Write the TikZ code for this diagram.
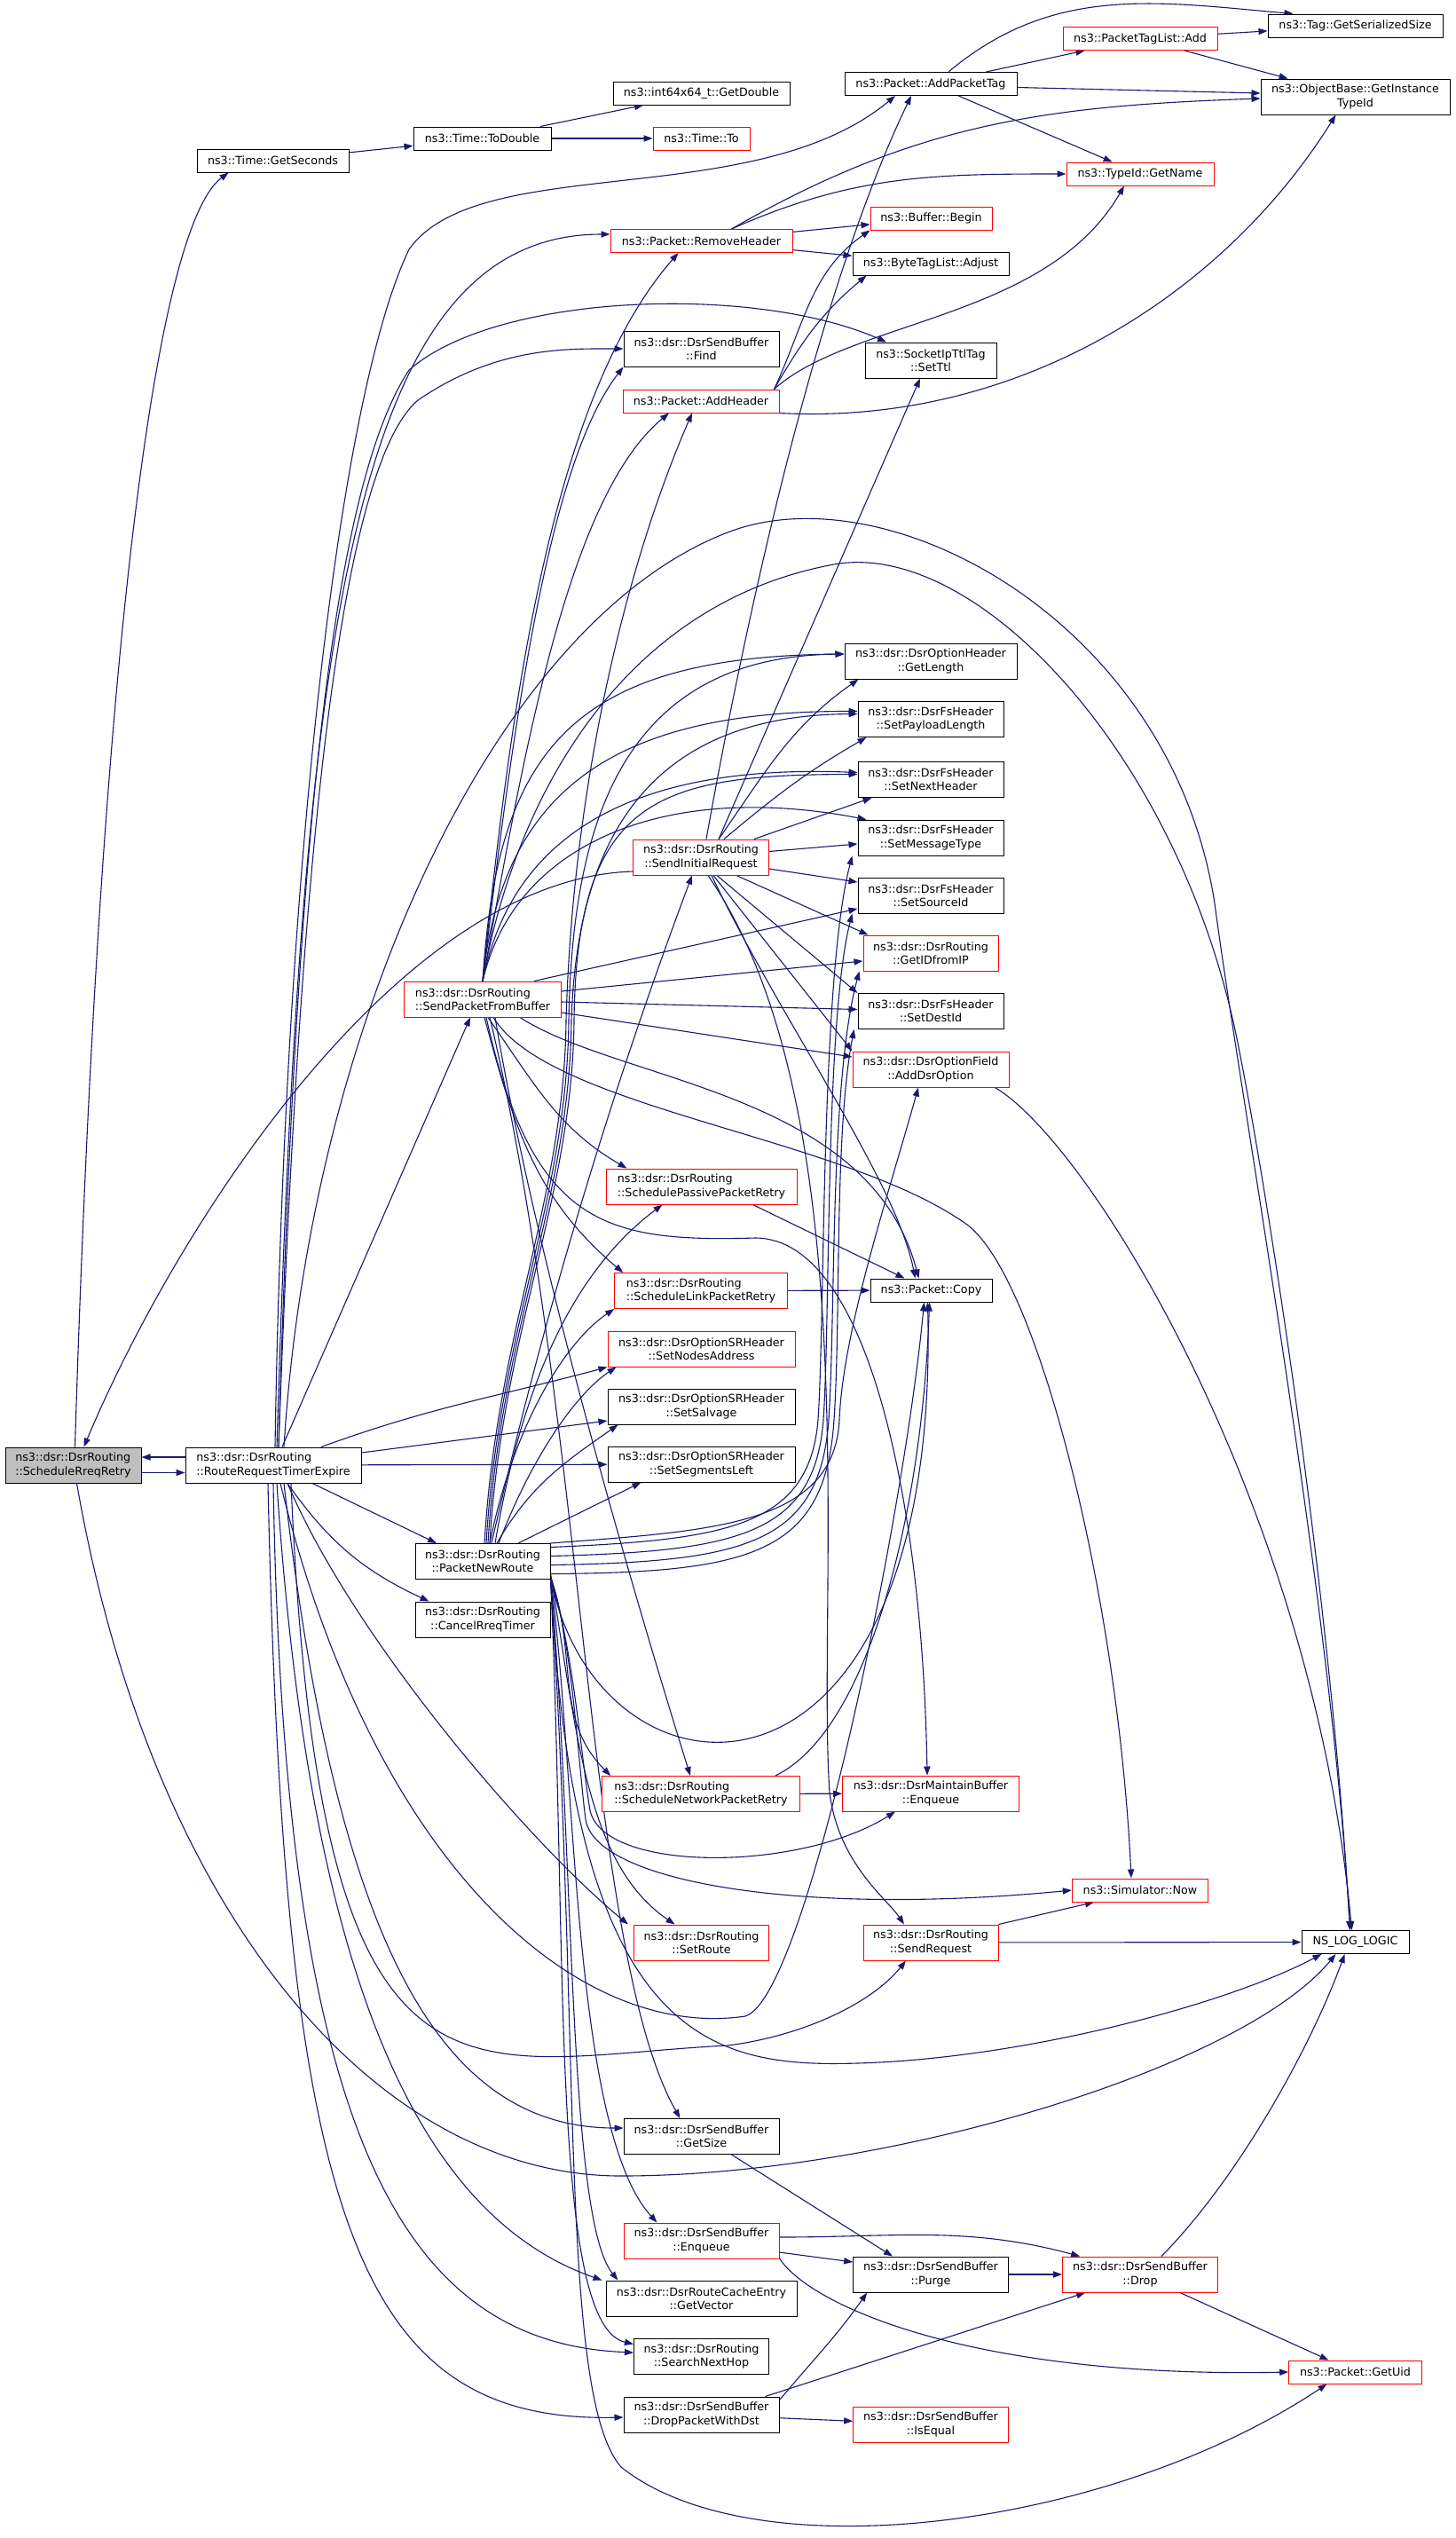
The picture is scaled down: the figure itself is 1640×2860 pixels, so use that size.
\documentclass[tikz,border=0pt]{standalone}
\usepackage{fontspec}
\setmainfont{DejaVu Sans}
\usepackage{tikz}
\usetikzlibrary{arrows.meta,positioning}
\usepackage{xcolor}
\definecolor{callblue}{RGB}{25,25,112}
\definecolor{focusgray}{RGB}{191,191,191}
\pgfdeclarelayer{back}
\pgfdeclarelayer{links}
\pgfsetlayers{back,links,main}

\begin{document}
\begin{tikzpicture} [
    x = 0.5pt, y = 0.5pt,
    fn/.style = { draw = black, line width = 0.5pt, fill = white, inner xsep = 1pt, inner ysep = 0pt,
        font = \fontsize{6.35}{7.7}\selectfont, align = center, minimum width = #1, minimum height = 20pt },
    oneline/.style = { minimum height = 13pt },
    hot/.style = { draw = red },
    lft/.style = { align = left },
    focus/.style = { fill = focusgray },
    call/.style = { draw = callblue, line width = 0.55pt, -{Triangle[length = 5pt, width = 3.6pt]} }
    ]

    \useasboundingbox (0,0) rectangle (1640,-2860);
    \begin{pgfonlayer}{back}
    \fill[white] (0,0) rectangle (1640,-2860);
    \end{pgfonlayer}

    \node [fn=76.5pt, focus, lft] (srr) at (82.5,-1651) {ns3::dsr::DsrRouting\\::ScheduleRreqRetry};
    \node [fn=99pt, lft] (rrte) at (308,-1651) {ns3::dsr::DsrRouting\\::RouteRequestTimerExpire};
    \node [fn=85.5pt, oneline] (getsec) at (307.5,-181) {ns3::Time::GetSeconds};
    \node [fn=77.5pt, oneline] (todouble) at (543.5,-156) {ns3::Time::ToDouble};
    \node [fn=99.5pt, oneline] (getdouble) at (790.5,-105) {ns3::int64x64\_t::GetDouble};
    \node [fn=54.5pt, oneline, hot] (timeto) at (790.5,-156) {ns3::Time::To};
    \node [fn=97pt, oneline] (addtag) at (1049,-94.5) {ns3::Packet::AddPacketTag};
    \node [fn=87pt, oneline, hot] (taglistadd) at (1285,-43.5) {ns3::PacketTagList::Add};
    \node [fn=98.5pt, oneline] (sersize) at (1527.5,-29) {ns3::Tag::GetSerializedSize};
    \node [fn=106.5pt] (instid) at (1527.5,-109) {ns3::ObjectBase::GetInstance\\TypeId};
    \node [fn=83pt, oneline, hot] (getname) at (1285,-196) {ns3::TypeId::GetName};
    \node [fn=102.5pt, oneline, hot] (remhdr) at (790.5,-271.5) {ns3::Packet::RemoveHeader};
    \node [fn=68.5pt, oneline, hot] (bufbegin) at (1049.5,-246) {ns3::Buffer::Begin};
    \node [fn=88pt, oneline] (adjust) at (1049,-297) {ns3::ByteTagList::Adjust};
    \node [fn=87.5pt] (find) at (790.5,-393) {ns3::dsr::DsrSendBuffer\\::Find};
    \node [fn=74pt] (setttl) at (1049,-406) {ns3::SocketIpTtlTag\\::SetTtl};
    \node [fn=88pt, oneline, hot] (addhdr) at (790,-452) {ns3::Packet::AddHeader};
    \node [fn=97pt] (getlength) at (1049,-745) {ns3::dsr::DsrOptionHeader\\::GetLength};
    \node [fn=82pt] (setpayload) at (1049,-810.5) {ns3::dsr::DsrFsHeader\\::SetPayloadLength};
    \node [fn=82pt] (setnext) at (1049,-878.5) {ns3::dsr::DsrFsHeader\\::SetNextHeader};
    \node [fn=82pt] (setmsg) at (1049,-944) {ns3::dsr::DsrFsHeader\\::SetMessageType};
    \node [fn=76.25pt, hot] (initreq) at (790,-966) {ns3::dsr::DsrRouting\\::SendInitialRequest};
    \node [fn=82pt] (setsrc) at (1049,-1009) {ns3::dsr::DsrFsHeader\\::SetSourceId};
    \node [fn=76pt, hot] (getid) at (1049,-1074) {ns3::dsr::DsrRouting\\::GetIDfromIP};
    \node [fn=88.25pt, hot, lft] (sendbuf) at (544,-1126) {ns3::dsr::DsrRouting\\::SendPacketFromBuffer};
    \node [fn=82pt] (setdest) at (1049,-1139.5) {ns3::dsr::DsrFsHeader\\::SetDestId};
    \node [fn=88pt, hot] (addopt) at (1049,-1205) {ns3::dsr::DsrOptionField\\::AddDsrOption};
    \node [fn=107.5pt, hot, lft] (passive) at (790.5,-1337) {ns3::dsr::DsrRouting\\::SchedulePassivePacketRetry};
    \node [fn=68.5pt, oneline] (copy) at (1049.5,-1454) {ns3::Packet::Copy};
    \node [fn=97.25pt, hot, lft] (linkretry) at (790,-1454.5) {ns3::dsr::DsrRouting\\::ScheduleLinkPacketRetry};
    \node [fn=105.5pt, hot] (nodesaddr) at (790.5,-1520) {ns3::dsr::DsrOptionSRHeader\\::SetNodesAddress};
    \node [fn=105.5pt] (salvage) at (790.5,-1585) {ns3::dsr::DsrOptionSRHeader\\::SetSalvage};
    \node [fn=105.5pt] (segleft) at (790.5,-1650) {ns3::dsr::DsrOptionSRHeader\\::SetSegmentsLeft};
    \node [fn=76pt] (newroute) at (544,-1759.5) {ns3::dsr::DsrRouting\\::PacketNewRoute};
    \node [fn=76pt] (cancel) at (544,-1825) {ns3::dsr::DsrRouting\\::CancelRreqTimer};
    \node [fn=111.3pt, hot, lft] (netretry) at (790,-2021.5) {ns3::dsr::DsrRouting\\::ScheduleNetworkPacketRetry};
    \node [fn=99.4pt, hot] (mainenq) at (1049,-2021) {ns3::dsr::DsrMaintainBuffer\\::Enqueue};
    \node [fn=76.7pt, oneline, hot] (now) at (1285,-2130) {ns3::Simulator::Now};
    \node [fn=76pt, hot] (setroute) at (790.5,-2189) {ns3::dsr::DsrRouting\\::SetRoute};
    \node [fn=76pt, hot] (sendreq) at (1049,-2189) {ns3::dsr::DsrRouting\\::SendRequest};
    \node [fn=60.5pt, oneline] (nslog) at (1527.5,-2188.5) {NS\_LOG\_LOGIC};
    \node [fn=87.5pt] (getsize) at (790.5,-2407.5) {ns3::dsr::DsrSendBuffer\\::GetSize};
    \node [fn=87.5pt, hot] (sendenq) at (790.5,-2525) {ns3::dsr::DsrSendBuffer\\::Enqueue};
    \node [fn=87.35pt] (purge) at (1049,-2563) {ns3::dsr::DsrSendBuffer\\::Purge};
    \node [fn=87.35pt, hot] (drop) at (1285,-2563) {ns3::dsr::DsrSendBuffer\\::Drop};
    \node [fn=107.5pt] (getvector) at (790.5,-2590) {ns3::dsr::DsrRouteCacheEntry\\::GetVector};
    \node [fn=76pt] (nexthop) at (790.5,-2655.5) {ns3::dsr::DsrRouting\\::SearchNextHop};
    \node [fn=74.8pt, oneline, hot] (getuid) at (1527.5,-2673) {ns3::Packet::GetUid};
    \node [fn=87.5pt] (dropdst) at (790.5,-2721) {ns3::dsr::DsrSendBuffer\\::DropPacketWithDst};
    \node [fn=87.35pt, hot] (isequal) at (1049,-2732) {ns3::dsr::DsrSendBuffer\\::IsEqual};

    \begin{pgfonlayer}{links}
    \draw[call] ([xshift=1pt]srr.north) .. controls (110,-800) and (170,-260) .. ([xshift=-25pt]getsec.south);
    \draw[call] ([yshift=-4.25pt]srr.east) -- ([yshift=-4.25pt]rrte.west);
    \draw[call] ([xshift=2pt]srr.south) .. controls (170,-2150) and (420,-2452) .. (700,-2452) .. controls (1000,-2452) and (1400,-2330) .. ([xshift=-11pt]nslog.south);

    \draw[call] (getsec) -- (todouble);
    \draw[call] (todouble) -- (getdouble);
    \draw[call] (todouble) -- (timeto);

    \draw[call] (addtag) -- (taglistadd);
    \draw[call] ([xshift=10pt]addtag.north) to[out=40, in=175] ([xshift=-35pt]sersize.north);
    \draw[call] ([yshift=-2pt]addtag.east) -- ([yshift=2pt]instid.west);
    \draw[call] (addtag) -- (getname);
    \draw[call] (taglistadd) -- (sersize);
    \draw[call] (taglistadd) -- (instid);
    \draw[call] (remhdr) -- (bufbegin);
    \draw[call] (remhdr) -- (adjust);
    \draw[call] ([xshift=17pt]remhdr.north) to[out=24, in=180] (getname.west);
    \draw[call] ([xshift=17pt]remhdr.north) to[out=30, in=182] ([yshift=-1pt]instid.west);
    \draw[call] ([xshift=-3pt]addhdr.north east) to[out=65, in=215] (bufbegin.south west);
    \draw[call] ([xshift=-3pt]addhdr.north east) to[out=60, in=220] ([xshift=8pt]adjust.south west);
    \draw[call] ([xshift=-3pt]addhdr.north east) .. controls (960,-360) and (1180,-360) .. ([xshift=-9pt]getname.south);
    \draw[call] (addhdr.south east) .. controls (1150,-480) and (1380,-330) .. ([xshift=-11pt]instid.south);

    \draw[call] ([yshift=4.5pt]rrte.west) -- ([yshift=4.5pt]srr.east);
    \draw[call] ([xshift=1pt]rrte.north) .. controls (320,-1000) and (380,-450) .. (461,-281) .. controls (540,-170) and (850,-240) .. ([xshift=-20pt]addtag.south);
    \draw[call] ([xshift=2pt]rrte.north) .. controls (340,-700) and (400,-264) .. ([yshift=3.75pt]remhdr.west);
    \draw[call] ([xshift=3pt]rrte.north) .. controls (335,-900) and (380,-540) .. (461,-417) .. controls (560,-330) and (850,-320) .. ([xshift=-25pt]setttl.north);
    \draw[call] ([xshift=3pt]rrte.north) .. controls (340,-900) and (390,-520) .. (471,-451) .. controls (560,-390) and (640,-393) .. (find.west);
    \draw[call] ([xshift=5pt]rrte.north) -- ([xshift=-7pt]sendbuf.south);
    \draw[call] ([xshift=6pt]rrte.north) .. controls (350,-1150) and (560,-700) .. (820,-600) .. controls (1000,-530) and (1320,-700) .. (1369,-1018) .. controls (1400,-1250) and (1500,-1800) .. ([xshift=-3pt]nslog.north);
    \draw[call] ([xshift=27pt]rrte.north) to[out=20, in=195] (nodesaddr.south west);
    \draw[call] ([yshift=7pt]rrte.east) -- ([yshift=-8pt]salvage.west);
    \draw[call] (rrte) -- (segleft);
    \draw[call] ([xshift=22pt]rrte.south) -- ([xshift=-26pt]newroute.north);
    \draw[call] ([xshift=8pt]rrte.south) to[out=-55, in=155] ([xshift=8pt]cancel.north west);
    \draw[call] ([xshift=8pt]rrte.south) .. controls (400,-1850) and (600,-2080) .. ([xshift=-3pt]setroute.north west);
    \draw[call] ([xshift=6pt]rrte.south) .. controls (380,-2200) and (500,-2398) .. ([yshift=4.75pt]getsize.west);
    \draw[call] ([xshift=2pt]rrte.south) .. controls (350,-2250) and (480,-2500) .. ([xshift=-2pt]getvector.north west);
    \draw[call] (rrte.south) .. controls (320,-2400) and (450,-2640) .. ([yshift=2.25pt]nexthop.west);
    \draw[call] ([xshift=-3pt]rrte.south) .. controls (320,-2500) and (400,-2730) .. ([yshift=-1.5pt]dropdst.west);
    \draw[call] ([xshift=4pt]rrte.south) .. controls (420,-2100) and (650,-2300) .. (840,-2272) .. controls (910,-2250) and (1020,-1700) .. ([xshift=-4pt]copy.south);
    \draw[call] ([xshift=10pt]rrte.south) .. controls (360,-2420) and (520,-2320) .. (820,-2305) .. controls (900,-2295) and (980,-2260) .. ([xshift=-14pt]sendreq.south);

    \draw[call] (sendbuf.north) .. controls (575,-800) and (620,-450) .. ([xshift=-13pt]remhdr.south);
    \draw[call] (sendbuf.north) .. controls (580,-800) and (620,-520) .. (find.south west);
    \draw[call] (sendbuf.north) .. controls (590,-850) and (640,-560) .. ([xshift=-18pt]addhdr.south);
    \draw[call] (sendbuf.north) .. controls (560,-850) and (640,-740) .. ([yshift=4pt]getlength.west);
    \draw[call] (sendbuf.north) .. controls (565,-900) and (680,-801) .. ([yshift=4.5pt]setpayload.west);
    \draw[call] (sendbuf.north) .. controls (575,-950) and (700,-860) .. ([yshift=4pt]setnext.west);
    \draw[call] (sendbuf.north) .. controls (580,-950) and (750,-880) .. ([xshift=5pt]setmsg.north west);
    \draw[call] ([xshift=29pt]sendbuf.north) -- ([yshift=-7.5pt]setsrc.west);
    \draw[call] ([yshift=4.5pt]sendbuf.east) -- ([yshift=-4.5pt]getid.west);
    \draw[call] ([yshift=-1.5pt]sendbuf.east) -- ([yshift=1pt]setdest.west);
    \draw[call] ([yshift=-7.5pt]sendbuf.east) -- ([yshift=7pt]addopt.west);
    \draw[call] ([xshift=3pt]sendbuf.south) to[out=-55, in=150] ([xshift=12pt]passive.north west);
    \draw[call] ([xshift=1pt]sendbuf.south) to[out=-75, in=140] ([xshift=5pt]linkretry.north west);
    \draw[call] ([xshift=21pt]sendbuf.south) .. controls (700,-1220) and (980,-1230) .. ([xshift=-7pt]copy.north);
    \draw[call] ([xshift=7pt]sendbuf.south) .. controls (600,-1400) and (700,-1750) .. ([xshift=-6pt]netretry.north);
    \draw[call] ([xshift=2pt]sendbuf.south) .. controls (600,-1380) and (680,-1400) .. (851,-1395) .. controls (980,-1395) and (1040,-1700) .. ([xshift=-2pt]mainenq.north);
    \draw[call] ([xshift=6pt]sendbuf.south) .. controls (620,-1250) and (950,-1280) .. (1090,-1380) .. controls (1170,-1440) and (1260,-1800) .. ([xshift=-5pt]now.north);
    \draw[call] ([xshift=4pt]sendbuf.south) .. controls (660,-1600) and (660,-2200) .. ([xshift=-12pt]getsize.north);
    \draw[call] (sendbuf.north) .. controls (580,-900) and (700,-680) .. (940,-636) .. controls (1100,-607) and (1330,-850) .. (1395,-1175) .. controls (1430,-1350) and (1500,-1800) .. ([xshift=-3pt]nslog.north);

    \draw[call] ([xshift=5pt]newroute.north) .. controls (620,-1450) and (700,-1200) .. ([xshift=-5pt]initreq.south);
    \draw[call] ([xshift=7pt]newroute.north) .. controls (590,-1550) and (650,-1430) .. ([xshift=-22pt]passive.south);
    \draw[call] ([xshift=4pt]newroute.north) .. controls (580,-1600) and (640,-1510) .. (linkretry.south west);
    \draw[call] ([xshift=9pt]newroute.north) .. controls (600,-1640) and (650,-1570) .. ([xshift=5pt]nodesaddr.south west);
    \draw[call] ([xshift=8pt]newroute.north) to[out=60, in=215] ([xshift=6pt]salvage.south west);
    \draw[call] ([xshift=20pt]newroute.north) -- ([xshift=-34pt]segleft.south);
    \draw[call] ([xshift=1pt]newroute.north) .. controls (560,-1500) and (636,-1350) .. (638,-1150) .. controls (645,-900) and (700,-650) .. ([xshift=-5pt]addhdr.south);
    \draw[call] ([xshift=2pt]newroute.north) .. controls (562,-1500) and (639,-1350) .. (641,-1150) .. controls (645,-930) and (700,-740) .. ([yshift=4pt]getlength.west);
    \draw[call] ([xshift=3pt]newroute.north) .. controls (564,-1500) and (642,-1350) .. (644,-1150) .. controls (650,-960) and (720,-806) .. ([yshift=3pt]setpayload.west);
    \draw[call] ([xshift=4pt]newroute.north) .. controls (566,-1500) and (645,-1350) .. (647,-1150) .. controls (650,-900) and (740,-873) .. ([yshift=3pt]setnext.west);
    \draw[call] ([yshift=8pt]newroute.east) .. controls (820,-1735) and (912,-1720) .. (922,-1600) .. controls (930,-1480) and (925,-1100) .. ([xshift=-3pt]setmsg.south west);
    \draw[call] ([yshift=3pt]newroute.east) .. controls (830,-1748) and (918,-1730) .. (928,-1600) .. controls (936,-1480) and (930,-1150) .. ([xshift=-3pt]setsrc.south west);
    \draw[call] ([yshift=-2pt]newroute.east) .. controls (840,-1760) and (924,-1740) .. (934,-1600) .. controls (942,-1480) and (935,-1220) .. ([xshift=-2pt]getid.south west);
    \draw[call] ([yshift=-7pt]newroute.east) .. controls (850,-1772) and (930,-1750) .. (940,-1600) .. controls (948,-1480) and (940,-1280) .. ([xshift=-2pt]setdest.south west);
    \draw[call] (newroute.north east) .. controls (800,-1725) and (940,-1720) .. (946,-1600) .. controls (950,-1500) and (1000,-1350) .. ([xshift=-7pt]addopt.south);
    \draw[call] ([yshift=2pt]newroute.south east) .. controls (670,-2050) and (1060,-2080) .. ([xshift=-2pt]copy.south);
    \draw[call] (newroute.south east) .. controls (645,-1850) and (655,-1980) .. (665,-2040) .. controls (680,-2110) and (900,-2110) .. ([xshift=-20pt]mainenq.south);
    \draw[call] ([yshift=1pt]newroute.south east) to[out=-70, in=135] ([xshift=5pt]netretry.north west);
    \draw[call] ([yshift=3pt]newroute.south east) .. controls (650,-1950) and (660,-2100) .. ([xshift=-15pt]setroute.north);
    \draw[call] ([yshift=2pt]newroute.south east) .. controls (645,-1850) and (652,-1990) .. (660,-2050) .. controls (670,-2120) and (900,-2160) .. (now.west);
    \draw[call] ([yshift=1pt]newroute.south east) .. controls (650,-2000) and (645,-2400) .. ([xshift=-25pt]sendenq.north);
    \draw[call] ([yshift=1.5pt]newroute.south east) .. controls (648,-2100) and (640,-2500) .. ([xshift=7pt]getvector.north west);
    \draw[call] ([yshift=0.5pt]newroute.south east) .. controls (640,-2200) and (620,-2620) .. ([yshift=7pt]nexthop.west);
    \draw[call] ([yshift=2.5pt]newroute.south east) .. controls (645,-2300) and (800,-2330) .. (966,-2325) .. controls (1150,-2320) and (1380,-2260) .. ([xshift=-19pt]nslog.south);
    \draw[call] (newroute.south east) .. controls (655,-2300) and (630,-2700) .. (700,-2780) .. controls (850,-2900) and (1250,-2850) .. ([xshift=-16pt]getuid.south);

    \draw[call] ([xshift=3pt]initreq.north) .. controls (840,-700) and (920,-330) .. ([xshift=-11pt]addtag.south);
    \draw[call] ([xshift=10pt]initreq.north) -- ([xshift=-6pt]setttl.south);
    \draw[call] ([xshift=10pt]initreq.north) to[out=55, in=215] ([xshift=8pt]getlength.south west);
    \draw[call] ([xshift=13pt]initreq.north) to[out=40, in=210] ([xshift=5pt]setpayload.south west);
    \draw[call] ([xshift=30pt]initreq.north) -- ([xshift=8pt]setnext.south west);
    \draw[call] (initreq) -- (setmsg);
    \draw[call] ([yshift=-6.5pt]initreq.east) -- ([yshift=7.5pt]setsrc.west);
    \draw[call] ([xshift=20pt]initreq.south) -- ([xshift=3pt]getid.north west);
    \draw[call] ([xshift=9pt]initreq.south) -- (setdest.north west);
    \draw[call] ([xshift=7pt]initreq.south) -- (addopt.north west);
    \draw[call] ([xshift=6pt]initreq.south) .. controls (880,-1150) and (1010,-1330) .. ([xshift=-9pt]copy.north);
    \draw[call] ([xshift=4pt]initreq.south) .. controls (980,-1250) and (920,-1800) .. (935,-2020) .. controls (945,-2100) and (1000,-2140) .. ([xshift=-15pt]sendreq.north);
    \draw[call] ([yshift=-8pt]initreq.west) .. controls (450,-990) and (200,-1380) .. ([xshift=6pt]srr.north);

    \draw[call] ([xshift=-25pt]passive.south east) -- ([xshift=-15pt]copy.north);
    \draw[call] (linkretry) -- (copy);
    \draw[call] (netretry) -- (mainenq);
    \draw[call] ([xshift=-14pt]netretry.north east) .. controls (980,-1950) and (1040,-1700) .. ([xshift=-1pt]copy.south);
    \draw[call] ([xshift=-8pt]addopt.south east) .. controls (1230,-1290) and (1480,-1700) .. ([xshift=-2pt]nslog.north);
    \draw[call] (sendreq.north east) -- ([xshift=-26pt]now.south);
    \draw[call] (sendreq) -- (nslog);
    \draw[call] ([xshift=17pt]getsize.south) -- ([xshift=-21.5pt]purge.north);
    \draw[call] ([yshift=-6.5pt]sendenq.east) -- ([yshift=7pt]purge.west);
    \draw[call] ([yshift=2pt]sendenq.east) to[out=0, in=165] ([xshift=10pt]drop.north west);
    \draw[call] ([yshift=-10pt]sendenq.east) .. controls (915,-2600) and (1100,-2680) .. (getuid.west);
    \draw[call] (purge) -- (drop);
    \draw[call] ([xshift=12pt]drop.north) .. controls (1400,-2450) and (1480,-2300) .. ([xshift=-6pt]nslog.south);
    \draw[call] ([xshift=22.5pt]drop.south) -- ([xshift=-15pt]getuid.north);
    \draw[call] ([yshift=-2pt]dropdst.north east) to[out=50, in=235] ([xshift=8pt]purge.south west);
    \draw[call] ([xshift=-8pt]dropdst.north east) -- ([xshift=13pt]drop.south west);
    \draw[call] (dropdst) -- (isequal);
    \end{pgfonlayer}

\end{tikzpicture}
\end{document}
